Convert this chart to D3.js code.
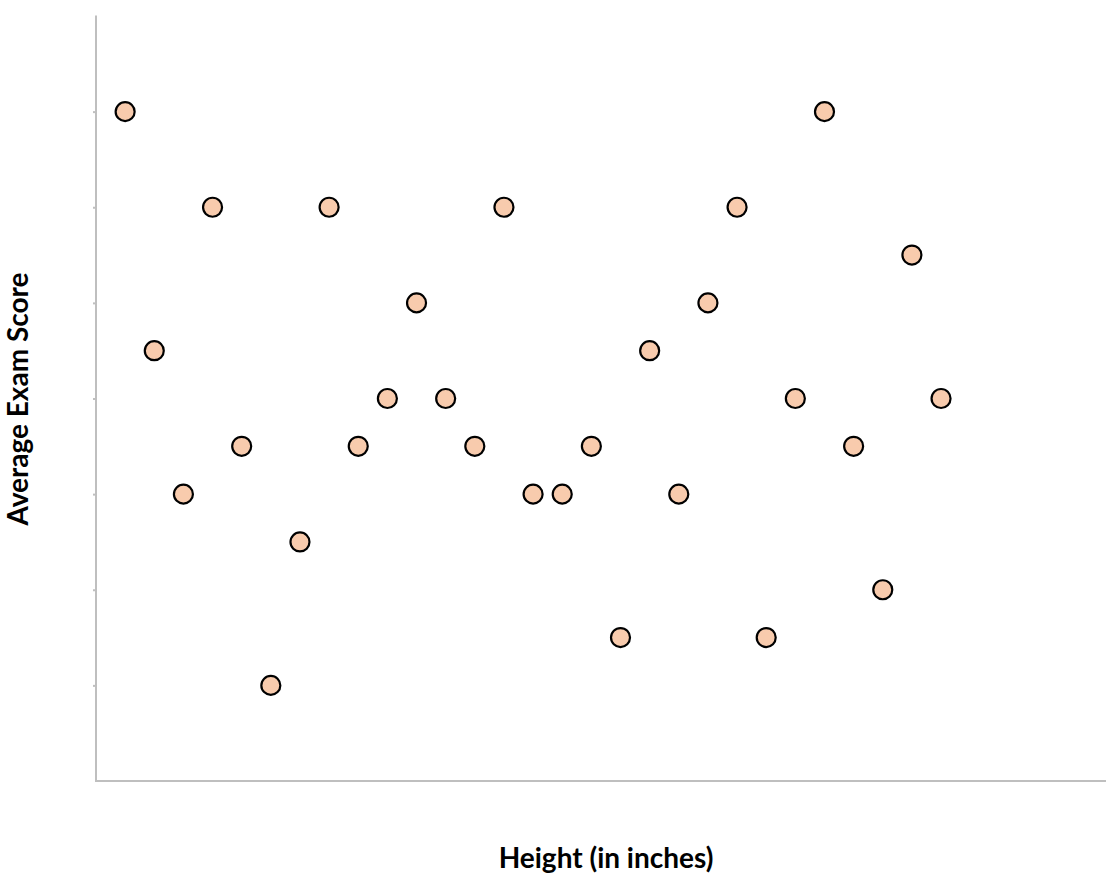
<!DOCTYPE html>
<html><head><meta charset="utf-8">
<script src="https://cdn.jsdelivr.net/npm/d3@7"></script>
<style>body{margin:0;background:#fff;} svg{display:block;}</style>
</head><body>
<svg id="c" width="1106" height="882"></svg>
<script>
const xValues = [1,2,3,4,5,6,7,8,9,10,11,12,13,14,15,16,17,18,19,20,21,22,23,24,25,26,27,28,29];
const yValues = [7,4.5,3,6,3.5,1,2.5,6,3.5,4,5,4,3.5,6,3,3,3.5,1.5,4.5,3,5,6,1.5,4,7,3.5,2,5.5,4];
const yTicks = [1,2,3,4,5,6,7];
const xTitle = "Height (in inches)";
const yTitle = "Average Exam Score";

const svg = d3.select("#c");
const x = d3.scaleLinear().domain([0, 35]).range([96, 96 + 35*29.14]);
const y = d3.scaleLinear().domain([0, 8]).range([781, 16]);

svg.append("g").attr("transform","translate(96,0)")
  .call(d3.axisLeft(y).tickValues(yTicks).tickSize(3).tickFormat(""))
  .call(g=>g.selectAll("path,line").attr("stroke","#BFBFBF").attr("stroke-width",2))
  .call(g=>g.select("path").attr("d","M0,781V15.5"));
svg.append("g").attr("transform","translate(0,781)")
  .call(d3.axisBottom(x).tickValues([]).tickSizeOuter(0))
  .call(g=>g.selectAll("path").attr("stroke","#BFBFBF").attr("stroke-width",2))
  .call(g=>g.select("path").attr("d","M95,0H1106"));

svg.append("g").selectAll("circle").data(xValues.map((v,i)=>[v,yValues[i]])).join("circle")
  .attr("cx",d=>x(d[0])).attr("cy",d=>y(d[1])).attr("r",9.5)
  .attr("fill","#F8CBAD").attr("stroke","#000").attr("stroke-width",2.2);

svg.append("text").attr("x",606).attr("y",868).attr("text-anchor","middle")
  .attr("font-family","Lato, 'Open Sans', sans-serif").attr("font-weight","bold").attr("font-size",28)
  .attr("fill","#000").text(xTitle);
svg.append("text").attr("transform","translate(28,399) rotate(-90)").attr("text-anchor","middle")
  .attr("font-family","Lato, 'Open Sans', sans-serif").attr("font-weight","bold").attr("font-size",28)
  .attr("fill","#000").text(yTitle);
</script>
</body></html>
